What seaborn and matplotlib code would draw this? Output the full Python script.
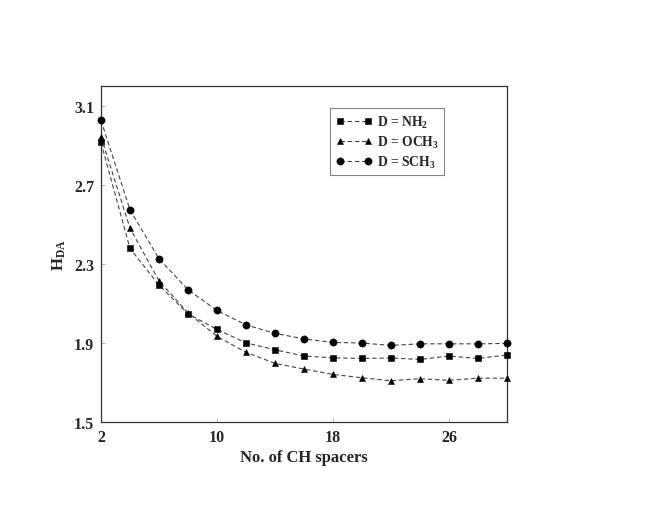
import numpy as np
import pandas as pd
import matplotlib
matplotlib.use("Agg")
import matplotlib.pyplot as plt
import seaborn as sns

spacers = [2, 4, 6, 8, 10, 12, 14, 16, 18, 20, 22, 24, 26, 28, 30]
h_nh2 = [2.915, 2.378, 2.193, 2.047, 1.968, 1.900, 1.865, 1.833, 1.824, 1.821,
         1.823, 1.816, 1.833, 1.821, 1.838]
h_och3 = [2.944, 2.481, 2.214, 2.052, 1.933, 1.852, 1.796, 1.767, 1.740, 1.723,
          1.708, 1.718, 1.710, 1.721, 1.721]
h_sch3 = [3.027, 2.574, 2.326, 2.169, 2.064, 1.991, 1.948, 1.920, 1.902, 1.899,
          1.887, 1.895, 1.895, 1.895, 1.897]
labels = [r"D = NH$_2$", r"D = OCH$_3$", r"D = SCH$_3$"]
xticks = [2, 10, 18, 26]
yticks = [1.5, 1.9, 2.3, 2.7, 3.1]

sns.set_theme(style="white")
plt.rcParams["font.family"] = ["Liberation Serif", "DejaVu Serif"]
plt.rcParams["font.weight"] = "bold"
plt.rcParams["mathtext.fontset"] = "custom"
plt.rcParams["mathtext.rm"] = "Liberation Serif:bold"
plt.rcParams["mathtext.it"] = "Liberation Serif:bold"
plt.rcParams["mathtext.default"] = "rm"

fig = plt.figure(figsize=(6.6, 5.1), dpi=100)
ax = fig.add_axes([0.153, 0.171, 0.615, 0.658])

series = [(h_nh2, "s", 4.0), (h_och3, "^", 4.8), (h_sch3, "o", 5.2)]
for (vals, mk, ms), lab in zip(series, labels):
    df = pd.DataFrame({"x": spacers, "y": vals})
    sns.lineplot(data=df, x="x", y="y", ax=ax, color="black", marker=mk,
                 markersize=ms, markeredgecolor="black", markeredgewidth=0.4,
                 linestyle=(0, (4, 2.5)),
                 linewidth=0.8, label=lab, clip_on=False, zorder=3)
for line in ax.get_lines():
    line.set_color("#444444")
    line.set_markerfacecolor("black")
    line.set_markeredgecolor("black")

ax.set_xlim(2, 30)
ax.set_ylim(1.5, 3.2)
ax.set_xticks(xticks)
ax.set_yticks(yticks)
ax.set_xticklabels([str(t) for t in xticks], fontsize=11.5, fontweight="bold")
ax.set_yticklabels([f"{t:.1f}" for t in yticks], fontsize=11.5, fontweight="bold")
ax.tick_params(axis="both", direction="in", length=3, width=0.6, color="#aaaaaa",
               pad=5, bottom=True, left=True)
for s in ax.spines.values():
    s.set_color("#333333")
    s.set_linewidth(0.9)

ax.set_xlabel("No. of CH spacers", fontsize=12, fontweight="bold", labelpad=3)
ax.set_ylabel(r"H$_{DA}$", fontsize=12, fontweight="bold", labelpad=4)

leg = ax.legend(loc="upper left", bbox_to_anchor=(0.565, 0.935), numpoints=2,
                fontsize=9.8, frameon=True, fancybox=False, handlelength=2.7,
                handletextpad=0.3, borderpad=0.4, labelspacing=0.3,
                borderaxespad=0)
leg.get_frame().set_edgecolor("#666666")
leg.get_frame().set_linewidth(0.8)
for t in leg.get_texts():
    t.set_fontweight("bold")

fig.savefig("out.png", dpi=100)
